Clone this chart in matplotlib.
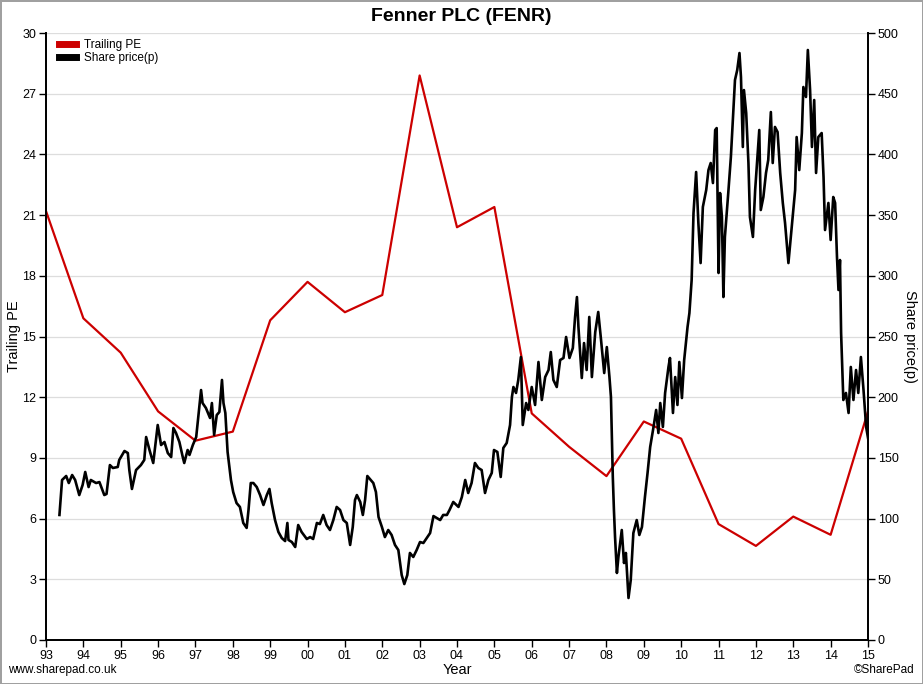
import matplotlib
matplotlib.use("Agg")
import matplotlib.pyplot as plt
from matplotlib.lines import Line2D

plt.rcParams['font.family'] = ['Liberation Sans', 'DejaVu Sans']

# trailing PE, one value per year start
pe_years = list(range(1993, 2016))
pe_values = [21.2, 15.9, 14.2, 11.3, 9.85, 10.3, 15.8, 17.7, 16.2, 17.05, 27.9, 20.4,
             21.4, 11.2, 9.55, 8.1, 10.8, 9.95, 5.73, 4.65, 6.1, 5.2, 11.3]

# share price (p)
price_years = [
    1993.36, 1993.43, 1993.54, 1993.61, 1993.70, 1993.78, 1993.89, 1993.98, 1994.05, 1994.14,
    1994.20, 1994.34, 1994.43, 1994.56, 1994.62, 1994.71, 1994.79, 1994.92, 1994.96, 1995.10,
    1995.19, 1995.23, 1995.30, 1995.41, 1995.54, 1995.63, 1995.68, 1995.77, 1995.87, 1995.99,
    1996.08, 1996.17, 1996.26, 1996.35, 1996.41, 1996.48, 1996.57, 1996.66, 1996.70, 1996.79,
    1996.84, 1996.93, 1997.02, 1997.09, 1997.15, 1997.19, 1997.28, 1997.39, 1997.44, 1997.50,
    1997.57, 1997.64, 1997.71, 1997.75, 1997.80, 1997.86, 1997.95, 1998.01, 1998.10, 1998.19,
    1998.28, 1998.37, 1998.42, 1998.48, 1998.55, 1998.64, 1998.73, 1998.82, 1998.91, 1998.98,
    1999.04, 1999.13, 1999.22, 1999.31, 1999.40, 1999.46, 1999.49, 1999.58, 1999.67, 1999.75,
    1999.84, 1999.98, 2000.07, 2000.15, 2000.25, 2000.33, 2000.42, 2000.51, 2000.60, 2000.69,
    2000.78, 2000.87, 2000.96, 2001.05, 2001.14, 2001.21, 2001.27, 2001.32, 2001.41, 2001.48,
    2001.54, 2001.60, 2001.67, 2001.76, 2001.83, 2001.90, 2001.99, 2002.07, 2002.16, 2002.25,
    2002.34, 2002.43, 2002.52, 2002.59, 2002.67, 2002.74, 2002.83, 2002.92, 2003.01, 2003.10,
    2003.19, 2003.28, 2003.37, 2003.46, 2003.55, 2003.63, 2003.73, 2003.80, 2003.90, 2004.04,
    2004.13, 2004.22, 2004.30, 2004.39, 2004.48, 2004.57, 2004.66, 2004.75, 2004.84, 2004.93,
    2004.99, 2005.08, 2005.17, 2005.24, 2005.33, 2005.42, 2005.47, 2005.51, 2005.58, 2005.64,
    2005.71, 2005.76, 2005.85, 2005.91, 2006.00, 2006.09, 2006.18, 2006.27, 2006.36, 2006.45,
    2006.51, 2006.58, 2006.67, 2006.76, 2006.85, 2006.92, 2007.01, 2007.10, 2007.16, 2007.21,
    2007.25, 2007.34, 2007.40, 2007.47, 2007.54, 2007.61, 2007.70, 2007.78, 2007.85, 2007.94,
    2008.01, 2008.08, 2008.12, 2008.17, 2008.20, 2008.23, 2008.28, 2008.32, 2008.41, 2008.47,
    2008.52, 2008.59, 2008.65, 2008.72, 2008.81, 2008.88, 2008.95, 2009.03, 2009.10, 2009.17,
    2009.26, 2009.33, 2009.39, 2009.44, 2009.51, 2009.57, 2009.66, 2009.70, 2009.78, 2009.84,
    2009.90, 2009.95, 2010.02, 2010.08, 2010.17, 2010.22, 2010.28, 2010.33, 2010.40, 2010.46,
    2010.52, 2010.58, 2010.67, 2010.73, 2010.79, 2010.85, 2010.91, 2010.95, 2011.00, 2011.04,
    2011.09, 2011.13, 2011.17, 2011.26, 2011.33, 2011.40, 2011.44, 2011.50, 2011.56, 2011.60,
    2011.65, 2011.68, 2011.74, 2011.80, 2011.84, 2011.92, 2011.98, 2012.04, 2012.09, 2012.13,
    2012.20, 2012.27, 2012.33, 2012.40, 2012.45, 2012.51, 2012.58, 2012.65, 2012.72, 2012.78,
    2012.87, 2012.96, 2013.05, 2013.09, 2013.16, 2013.23, 2013.27, 2013.34, 2013.39, 2013.45,
    2013.50, 2013.56, 2013.61, 2013.67, 2013.76, 2013.81, 2013.85, 2013.94, 2014.00, 2014.07,
    2014.12, 2014.17, 2014.21, 2014.25, 2014.28, 2014.34, 2014.41, 2014.48, 2014.54, 2014.61,
    2014.68, 2014.74, 2014.81, 2014.88, 2014.95, 2015.01,
]
price_values = [
    103.0, 131.8, 135.1, 129.3, 135.9, 131.8, 119.4, 127.7, 138.4, 126.0,
    131.8, 129.3, 130.1, 119.4, 120.3, 144.1, 141.7, 142.5, 148.3, 155.7,
    154.0, 140.0, 124.4, 140.0, 144.1, 148.3, 167.2, 156.5, 145.8, 177.1,
    160.6, 163.1, 154.0, 150.7, 174.6, 170.5, 163.1, 150.7, 145.8, 156.5,
    152.4, 160.6, 167.2, 187.8, 205.9, 195.2, 191.1, 182.9, 195.2, 168.9,
    185.3, 187.8, 214.2, 195.2, 187.0, 154.9, 131.8, 121.9, 112.8, 109.6,
    96.4, 92.3, 107.1, 129.3, 129.3, 126.0, 119.4, 111.2, 119.4, 124.4,
    112.8, 98.8, 89.0, 84.0, 81.5, 96.4, 82.4, 80.7, 76.6, 94.7,
    89.0, 83.2, 84.8, 83.2, 96.4, 95.5, 103.0, 94.7, 90.6, 98.8,
    109.6, 107.1, 98.8, 96.4, 78.3, 93.1, 115.3, 119.4, 113.7, 103.0,
    115.3, 135.1, 132.6, 129.3, 121.9, 101.3, 93.1, 84.8, 90.6, 86.5,
    78.3, 74.1, 53.5, 46.1, 53.5, 71.7, 68.4, 74.1, 80.7, 79.9,
    84.0, 88.1, 102.1, 100.5, 98.8, 103.0, 103.0, 107.1, 113.7, 109.6,
    117.8, 131.8, 121.1, 129.3, 145.8, 141.7, 140.0, 121.1, 131.8, 137.6,
    156.5, 154.9, 134.3, 158.2, 162.3, 177.1, 200.2, 208.4, 203.5, 214.2,
    233.1, 177.1, 195.2, 189.5, 208.4, 193.6, 229.0, 197.7, 216.6, 222.4,
    237.2, 214.2, 208.4, 230.6, 232.3, 249.6, 232.3, 240.5, 266.1, 282.5,
    257.8, 215.8, 244.6, 222.4, 266.1, 216.6, 253.7, 270.2, 248.8, 219.9,
    241.3, 216.6, 200.2, 134.3, 107.1, 84.8, 55.2, 68.4, 90.6, 63.4,
    71.7, 34.6, 49.4, 88.1, 98.8, 86.5, 93.1, 117.8, 137.6, 159.0,
    175.5, 189.5, 170.5, 195.2, 175.5, 203.5, 224.9, 232.3, 187.0, 216.6,
    193.6, 229.0, 199.3, 230.6, 257.8, 269.3, 296.5, 351.7, 385.5, 343.5,
    310.5, 356.7, 370.7, 387.1, 392.9, 376.4, 420.1, 421.7, 302.3, 368.2,
    348.4, 282.5, 332.0, 368.2, 397.8, 439.0, 461.3, 469.5, 483.5, 463.7,
    406.1, 453.0, 434.1, 392.9, 348.4, 332.0, 370.7, 397.8, 420.1, 354.2,
    364.9, 384.7, 395.4, 434.9, 392.9, 422.6, 418.4, 384.7, 360.0, 343.5,
    310.5, 340.2, 370.7, 414.3, 387.1, 417.6, 455.5, 447.3, 486.0, 453.0,
    406.1, 444.8, 384.7, 414.3, 417.6, 381.4, 337.7, 360.0, 329.5, 364.9,
    360.0, 315.5, 288.3, 313.0, 252.9, 197.7, 203.5, 187.0, 224.9, 197.7,
    222.4, 203.5, 233.1, 205.9, 175.5, 164.7,
]

year_labels = ['93', '94', '95', '96', '97', '98', '99', '00', '01', '02', '03', '04',
               '05', '06', '07', '08', '09', '10', '11', '12', '13', '14', '15']
pe_ticks = [0, 3, 6, 9, 12, 15, 18, 21, 24, 27, 30]
price_ticks = [0, 50, 100, 150, 200, 250, 300, 350, 400, 450, 500]

red = '#cc0000'

fig = plt.figure(figsize=(9.23, 6.84), dpi=100)
fig.patch.set_edgecolor('#a0a0a0')
fig.patch.set_linewidth(2)

ax = fig.add_axes([46 / 923, 44 / 684, 822 / 923, 607 / 684])
ax2 = ax.twinx()

ax.plot(pe_years, pe_values, color=red, lw=1.6, zorder=3)
ax2.plot(price_years, price_values, color='black', lw=1.9, zorder=2)

ax.set_xlim(1993, 2015)
ax.set_ylim(0, 30)
ax2.set_ylim(0, 500)
ax.set_xticks(pe_years)
ax.set_xticklabels(year_labels)
ax.set_yticks(pe_ticks)
ax2.set_yticks(price_ticks)

ax.grid(axis='y', color='#dddddd', lw=0.9)
ax.set_axisbelow(True)

for a in (ax, ax2):
    a.spines['top'].set_visible(False)
    for s in ('left', 'right', 'bottom'):
        a.spines[s].set_linewidth(1.3)
    a.tick_params(direction='out', length=5, width=1, labelsize=9, pad=2)

ax.set_ylabel('Trailing PE', fontsize=10.5, va='center')
ax.yaxis.set_label_coords(-0.039, 0.5)
ax2.set_ylabel('Share price(p)', fontsize=10.5, rotation=270, va='center')
ax2.yaxis.set_label_coords(1.051, 0.5)
ax.set_xlabel('Year', fontsize=10.5, labelpad=1)

fig.suptitle('Fenner PLC (FENR)', fontsize=14, fontweight='bold', y=0.988)
fig.text(8 / 923, 14 / 684, 'www.sharepad.co.uk', fontsize=8.5, ha='left', va='center')
fig.text(915 / 923, 14 / 684, '\u00a9SharePad', fontsize=8.5, ha='right', va='center')

handles = [Line2D([0], [0], color=red, lw=5), Line2D([0], [0], color='black', lw=5)]
ax2.legend(handles, ['Trailing PE', 'Share price(p)'], loc='upper left', frameon=False,
           fontsize=8.5, handlelength=1.4, handletextpad=0.7, labelspacing=0.1,
           borderaxespad=0.1, bbox_to_anchor=(0.009, 1.0))

fig.savefig('out.png', dpi=100)
